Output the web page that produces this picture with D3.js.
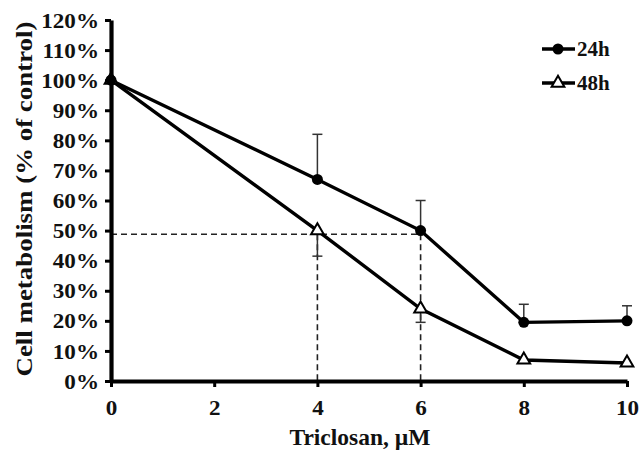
<!DOCTYPE html>
<html>
<head>
<meta charset="utf-8">
<script src="https://cdn.jsdelivr.net/npm/d3@7"></script>
<style>
body { margin: 0; background: #fff; }
svg { display: block; }
text { font-family: "Liberation Serif", "Times New Roman", serif; font-weight: bold; fill: #111; }
</style>
</head>
<body>
<svg width="643" height="451"></svg>
<script>
// triclosan concentration (uM)
var conc = [0, 4, 6, 8, 10];
// % of control
var h24 = [100, 67, 50, 19.5, 20];
var h48 = [100, 50, 24, 7, 6];
// error bars (24h drawn up, 48h drawn down)
var h24Err = [0, 15, 10, 6, 5];
var h48Err = [0, 8.5, 4.5, 0, 0];
var xTicks = [0, 2, 4, 6, 8, 10];
var yTicks = [0, 10, 20, 30, 40, 50, 60, 70, 80, 90, 100, 110, 120];
var halfLevel = 48.8;
var halfConc = [4, 6];

var svg = d3.select("svg");

var x = d3.scaleLinear().domain([0, 10]).range([111, 627]);
var y = d3.scaleLinear().domain([0, 120]).range([381, 20]);

// the scanned font is a bit wider than Times
function widen(sel, k){
  sel.each(function(){
    var w = this.getComputedTextLength();
    d3.select(this).attr("textLength", w * k).attr("lengthAdjust", "spacingAndGlyphs");
  });
}

// dashed guide lines
var guides = svg.append("g")
    .attr("stroke", "#222")
    .attr("stroke-width", 1.6)
    .attr("stroke-dasharray", "6,4")
    .attr("fill", "none");
guides.append("line")
    .attr("x1", x(0)).attr("x2", x(halfConc[1]))
    .attr("y1", y(halfLevel)).attr("y2", y(halfLevel));
guides.selectAll(".v").data(halfConc).enter().append("line")
    .attr("x1", d => x(d)).attr("x2", d => x(d))
    .attr("y1", y(halfLevel)).attr("y2", y(0));

// axes
var yAxis = svg.append("g")
    .attr("transform", "translate(" + x(0) + ",0)")
    .call(d3.axisLeft(y).tickValues(yTicks).tickFormat(d => d + "%").tickSize(6).tickSizeOuter(0).tickPadding(6));
var xAxis = svg.append("g")
    .attr("transform", "translate(0," + y(0) + ")")
    .call(d3.axisBottom(x).tickValues(xTicks).tickSize(6).tickSizeOuter(0).tickPadding(10));

[yAxis, xAxis].forEach(function(a){
  a.select(".domain").attr("stroke", "#000").attr("stroke-width", 4.2);
  a.selectAll(".tick line").attr("stroke", "#000").attr("stroke-width", 3);
  a.selectAll(".tick text").attr("font-size", 21).attr("fill", "#111")
    .attr("font-family", "Liberation Serif, serif").attr("font-weight", "bold");
});
xAxis.selectAll(".tick text").attr("dy", "0.88em");
yAxis.selectAll(".tick text").attr("dy", "0.34em");
widen(yAxis.selectAll(".tick text"), 1.1);
widen(xAxis.selectAll(".tick text"), 1.1);

// error bars
function errBars(vals, errs, dir){
  var g = svg.append("g").attr("stroke", "#333").attr("stroke-width", 1.5);
  var data = conc.map((c, i) => ({c: c, v: vals[i], e: errs[i]})).filter(d => d.e > 0);
  g.selectAll(".eb").data(data).enter().append("line")
    .attr("x1", d => x(d.c)).attr("x2", d => x(d.c))
    .attr("y1", d => y(d.v)).attr("y2", d => y(d.v + dir * d.e));
  g.selectAll(".cap").data(data).enter().append("line")
    .attr("x1", d => x(d.c) - 5).attr("x2", d => x(d.c) + 5)
    .attr("y1", d => y(d.v + dir * d.e)).attr("y2", d => y(d.v + dir * d.e));
}
errBars(h24, h24Err, 1);
errBars(h48, h48Err, -1);

// lines
var line = d3.line().x(d => x(d[0])).y(d => y(d[1]));
svg.append("path").datum(conc.map((c, i) => [c, h48[i]]))
  .attr("d", line).attr("fill", "none").attr("stroke", "#000").attr("stroke-width", 3.4);
svg.append("path").datum(conc.map((c, i) => [c, h24[i]]))
  .attr("d", line).attr("fill", "none").attr("stroke", "#000").attr("stroke-width", 3.4);

var tri = d3.symbol().type(d3.symbolTriangle).size(70);
svg.selectAll(".t48").data(conc.map((c, i) => [c, h48[i]])).enter().append("path")
  .attr("d", tri).attr("transform", d => "translate(" + x(d[0]) + "," + y(d[1]) + ")")
  .attr("fill", "#fff").attr("stroke", "#000").attr("stroke-width", 2);
svg.selectAll(".c24").data(conc.map((c, i) => [c, h24[i]])).enter().append("circle")
  .attr("cx", d => x(d[0])).attr("cy", d => y(d[1])).attr("r", 5.5).attr("fill", "#000");

// legend
var legend = svg.append("g").attr("transform", "translate(542,49)");
var rows = [{name: "24h", sym: "circle"}, {name: "48h", sym: "tri"}];
rows.forEach(function(r, i){
  var g = legend.append("g").attr("transform", "translate(0," + i * 34 + ")");
  g.append("line").attr("x1", 0).attr("x2", 33).attr("stroke", "#000").attr("stroke-width", 3.4);
  if (r.sym == "circle") g.append("circle").attr("cx", 16).attr("r", 5.5).attr("fill", "#000");
  else g.append("path").attr("d", tri).attr("transform", "translate(16,0)")
        .attr("fill", "#fff").attr("stroke", "#000").attr("stroke-width", 2);
  g.append("text").attr("x", 35).attr("dy", "0.35em").attr("font-size", 21).text(r.name);
});

// axis titles
svg.append("text").attr("x", 360).attr("y", 445).attr("text-anchor", "middle")
  .attr("font-size", 23.5).text("Triclosan, \u00b5M");
svg.append("text").attr("transform", "translate(32,199) rotate(-90)").attr("text-anchor", "middle")
  .attr("font-size", 23).attr("textLength", 355).attr("lengthAdjust", "spacingAndGlyphs")
  .text("Cell metabolism (% of control)");
</script>
</body>
</html>
